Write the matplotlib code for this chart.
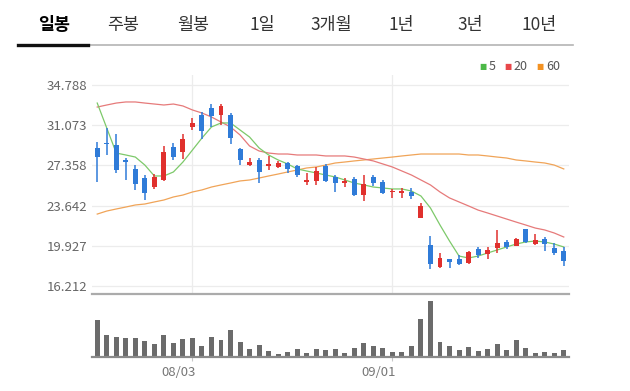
import matplotlib
matplotlib.use("Agg")
import matplotlib.pyplot as plt
from matplotlib.lines import Line2D

plt.rcParams['font.family'] = ['Noto Sans CJK KR', 'DejaVu Sans']

# ---------------- data ----------------
tabs = ["일봉", "주봉", "월봉", "1일", "3개월", "1년", "3년", "10년"]
active_tab = "일봉"

dates = ["07/20", "07/21", "07/22", "07/23", "07/24", "07/27", "07/28", "07/29", "07/30", "07/31",
         "08/03", "08/04", "08/05", "08/06", "08/07", "08/10", "08/11", "08/12", "08/13", "08/14",
         "08/17", "08/18", "08/19", "08/20", "08/21", "08/24", "08/25", "08/26", "08/27", "08/28",
         "08/31", "09/01", "09/02", "09/03", "09/04", "09/07", "09/08", "09/09", "09/10", "09/11",
         "09/14", "09/15", "09/16", "09/17", "09/18", "09/21", "09/22", "09/23", "09/24", "09/25"]
date_ticks = ["08/03", "09/01"]

opens = [28.97, 29.43, 29.25, 27.86, 27.03, 26.19, 25.36, 26.01, 29.06, 28.60,
         30.91, 32.01, 32.66, 32.01, 32.01, 28.88, 27.39, 27.86, 27.30, 27.21,
         27.58, 27.30, 25.82, 25.92, 27.30, 26.29, 25.73, 26.10, 24.62, 26.29,
         25.82, 24.90, 24.81, 24.90, 22.50, 20.00, 17.97, 18.71, 18.71, 18.34,
         19.63, 19.17, 19.72, 20.28, 19.91, 21.48, 20.09, 20.56, 19.72, 19.45]
highs = [29.52, 30.81, 30.26, 28.04, 27.39, 26.47, 26.56, 29.15, 29.43, 30.26,
         31.74, 32.29, 33.03, 33.03, 32.20, 28.97, 28.04, 28.04, 28.23, 27.77,
         27.67, 27.39, 26.66, 27.21, 27.49, 26.47, 26.19, 26.29, 26.47, 26.47,
         26.01, 25.18, 25.27, 25.27, 23.88, 20.83, 19.26, 18.71, 19.08, 19.45,
         19.82, 19.82, 21.39, 20.46, 20.65, 21.48, 21.02, 20.74, 20.19, 19.82]
lows = [25.82, 28.32, 26.66, 26.01, 25.09, 24.16, 25.18, 25.92, 27.86, 27.95,
        30.63, 29.80, 30.91, 31.09, 29.34, 27.39, 27.30, 25.73, 26.93, 27.12,
        26.66, 26.29, 25.55, 25.55, 25.82, 24.90, 25.36, 24.53, 24.07, 25.45,
        24.72, 24.35, 24.35, 24.25, 22.50, 17.78, 17.88, 17.88, 18.15, 18.25,
        18.80, 18.71, 19.26, 19.63, 19.91, 20.19, 20.00, 19.45, 19.08, 18.06]
closes = [28.13, 29.34, 26.93, 27.67, 25.64, 24.81, 26.29, 28.60, 28.13, 29.80,
          31.28, 30.54, 31.92, 32.85, 29.89, 27.86, 27.67, 26.75, 27.49, 27.58,
          27.03, 26.47, 26.01, 26.84, 25.92, 25.73, 25.92, 24.62, 25.64, 25.73,
          24.81, 24.99, 24.99, 24.53, 23.61, 18.25, 18.80, 18.43, 18.25, 19.35,
          19.08, 19.54, 20.19, 19.82, 20.56, 20.28, 20.46, 20.09, 19.26, 18.52]

ma5 = [33.12, 30.81, 28.50, 28.32, 28.13, 27.39, 26.38, 26.38, 26.75, 27.67,
       28.78, 29.89, 30.91, 31.28, 31.28, 30.63, 29.98, 28.97, 28.32, 27.86,
       27.49, 27.03, 26.84, 26.66, 26.47, 26.29, 26.01, 25.73, 25.55, 25.36,
       25.27, 25.18, 25.18, 24.99, 24.53, 23.42, 21.85, 20.37, 18.98, 18.80,
       18.98, 19.26, 19.54, 19.82, 20.09, 20.28, 20.37, 20.28, 20.09, 19.82]
ma20 = [32.75, 32.94, 33.12, 33.22, 33.22, 33.12, 33.03, 32.94, 33.03, 32.85,
        32.48, 32.20, 31.83, 31.37, 30.91, 30.17, 29.15, 28.69, 28.50, 28.41,
        28.41, 28.32, 28.32, 28.32, 28.23, 28.23, 28.23, 28.13, 27.95, 27.77,
        27.49, 27.21, 26.84, 26.47, 26.01, 25.55, 24.90, 24.35, 23.98, 23.61,
        23.23, 22.96, 22.68, 22.40, 22.12, 21.85, 21.57, 21.39, 21.11, 20.74]
ma60 = [22.86, 23.14, 23.33, 23.51, 23.70, 23.79, 23.98, 24.16, 24.44, 24.62,
        24.90, 25.09, 25.36, 25.55, 25.73, 25.92, 26.01, 26.19, 26.38, 26.56,
        26.75, 26.93, 27.12, 27.21, 27.39, 27.58, 27.67, 27.77, 27.86, 27.95,
        28.04, 28.13, 28.23, 28.32, 28.41, 28.41, 28.41, 28.41, 28.41, 28.32,
        28.32, 28.23, 28.13, 28.04, 27.86, 27.77, 27.67, 27.58, 27.39, 27.03]

volumes = [112, 65, 60, 58, 58, 47, 38, 65, 42, 53, 58, 33, 60, 50, 82, 44, 23, 35, 18, 8,
           15, 25, 13, 23, 20, 25, 13, 26, 42, 33, 28, 16, 16, 33, 113, 168, 45, 33, 20, 30,
           18, 25, 40, 20, 50, 28, 13, 16, 13, 20]

price_ticks = [16.212, 19.927, 23.642, 27.358, 31.073, 34.788]
ma_labels = ["5", "20", "60"]

# ---------------- styles ----------------
W, H = 630, 391
UP, DOWN = "#e0302d", "#2f7bd8"
C5, C20, C60 = "#7dc96a", "#e67a7a", "#f0a458"
L5, L20, L60 = "#4cb847", "#e8474a", "#f39222"

fig = plt.figure(figsize=(W / 100, H / 100), dpi=100)


def box(x0, y0, x1, y1):
    return [x0 / W, 1 - y1 / H, (x1 - x0) / W, (y1 - y0) / H]


# ---- tabs ----
tab_x = [54, 123, 193, 262, 331, 401, 470, 539]
for t, x in zip(tabs, tab_x):
    fig.text(x / W, 1 - 25 / H, t, ha="center", va="center",
             fontsize=12.5, color="#000000" if t == active_tab else "#333333",
             fontweight="bold" if t == active_tab else "normal")
fig.add_artist(Line2D([88 / W, 573 / W], [1 - 45 / H] * 2, color="#b4b4b4", lw=1.2))
fig.add_artist(Line2D([18 / W, 88 / W], [1 - 44.5 / H] * 2, color="#111111", lw=2.4))

# ---- legend ----
for lab, col, xs, xt in zip(ma_labels, [L5, L20, L60], [483, 508, 540], [489, 513, 546]):
    fig.text(xs / W, 1 - 67 / H, "■", ha="center", va="center", fontsize=5.5, color=col,
             family="DejaVu Sans")
    fig.text(xt / W, 1 - 67 / H, lab, ha="left", va="center", fontsize=9, color="#555555")

# ---- price axes ----
n = len(dates)
idx = list(range(n))
xlim = (-0.55, n - 0.45)
ax = fig.add_axes(box(92, 75, 569, 294))
ymin = 16.212 - 8 / 10.82
ymax = 34.788 + 10 / 10.82
ax.set_ylim(ymin, ymax)
ax.set_xlim(*xlim)

for y in price_ticks:
    ax.axhline(y, color="#ececec", lw=0.9, zorder=0)
tick_idx = [dates.index(d) for d in date_ticks]
for i in tick_idx:
    ax.axvline(i, color="#ececec", lw=0.9, zorder=0)

ax.plot(idx, ma60, color=C60, lw=0.9, zorder=2)
ax.plot(idx, ma20, color=C20, lw=0.9, zorder=2)
ax.plot(idx, ma5, color=C5, lw=0.9, zorder=2)

for i in idx:
    o, h, l, c = opens[i], highs[i], lows[i], closes[i]
    col = UP if c >= o else DOWN
    ax.vlines(i, l, h, color=col, lw=1.1, zorder=3)
    bot = min(o, c)
    hgt = max(abs(c - o), 0.06)
    ax.bar(i, hgt, bottom=bot, width=0.52, color=col, zorder=4, linewidth=0)

ax.set_yticks(price_ticks)
ax.set_yticklabels([f"{v:.3f}" for v in price_ticks])
ax.tick_params(axis="y", length=0, pad=3.6, labelsize=9.5, labelcolor="#666666")
ax.tick_params(axis="x", length=0, labelbottom=False)
for s in ["top", "right", "left"]:
    ax.spines[s].set_visible(False)
ax.spines["bottom"].set_color("#ababab")
ax.spines["bottom"].set_linewidth(1.6)
ax.set_facecolor("none")

# ---- volume axes ----
vx = fig.add_axes(box(92, 296, 569, 357))
vx.set_xlim(*xlim)
vx.set_ylim(0, 168 * 61 / 56)
vx.bar(idx, volumes, width=0.52, color="#6b6b6b", linewidth=0)
for s in ["top", "right", "left"]:
    vx.spines[s].set_visible(False)
vx.spines["bottom"].set_color("#8a8a8a")
vx.spines["bottom"].set_linewidth(1.6)
vx.set_yticks([])
vx.set_xticks(tick_idx)
vx.set_xticklabels([])
vx.tick_params(axis="x", length=3, width=0.8, color="#c8c8c8")
vx.set_facecolor("none")
for i, d in zip(tick_idx, date_ticks):
    vx.annotate(d, xy=(i, 0), xycoords=("data", "axes fraction"),
                xytext=(2.2, -10.8), textcoords="offset points",
                ha="right", va="center", fontsize=9.5, color="#777777")

fig.savefig("out.png", dpi=100, facecolor="white")
